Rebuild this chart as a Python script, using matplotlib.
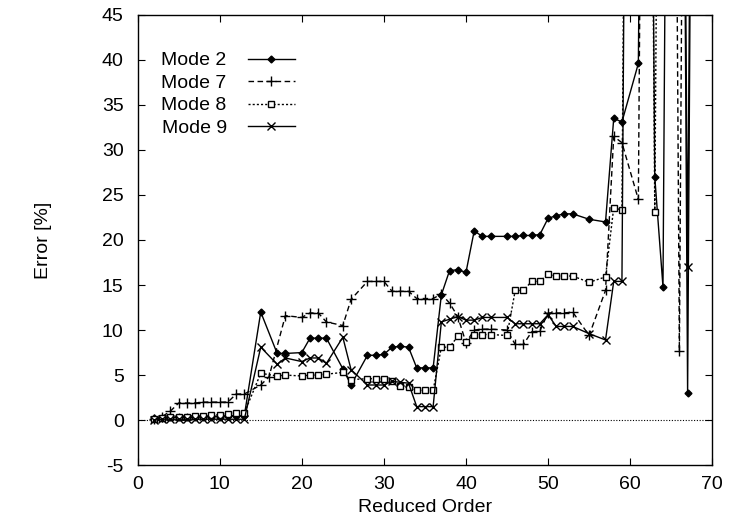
import matplotlib
matplotlib.use("Agg")
import matplotlib.pyplot as plt
import numpy as np

plt.rcParams['font.family'] = ['Liberation Sans', 'DejaVu Sans']
plt.rcParams['axes.unicode_minus'] = False

OFF = 150.0  # values running far above the plotted range

mode2_x = [2, 3, 4, 5, 6, 7, 8, 9, 10, 11, 12, 13, 15, 17, 18, 20, 21, 22, 23, 25, 26, 28, 29, 30,
           31, 32, 33, 34, 35, 36, 37, 38, 39, 40, 41, 42, 43, 45, 46, 47, 48, 49, 50, 51, 52, 53,
           55, 57, 58, 59, 61, 62, 63, 64, 65, 66, 67, 68]
mode2_y = [0.2, 0.2, 0.3, 0.3, 0.3, 0.3, 0.4, 0.4, 0.4, 0.5, 0.5, 0.5, 12.0, 7.4, 7.4, 7.5, 9.1, 9.1,
           9.1, 5.7, 3.9, 7.2, 7.2, 7.3, 8.1, 8.2, 8.1, 5.8, 5.8, 5.8, 13.9, 16.6, 16.7, 16.4, 21.0,
           20.4, 20.4, 20.4, 20.4, 20.5, 20.5, 20.6, 22.4, 22.7, 22.9, 22.9, 22.3, 22.0, 33.5, 33.1,
           39.6, OFF, 27.0, 14.8, OFF, OFF, 3.0, OFF]

mode7_x = [2, 3, 4, 5, 6, 7, 8, 9, 10, 11, 12, 13, 15, 16, 18, 20, 21, 22, 23, 25, 26, 28, 29, 30,
           31, 32, 33, 34, 35, 36, 37, 38, 39, 40, 41, 42, 43, 45, 46, 47, 48, 49, 50, 51, 52, 53,
           55, 57, 58, 59, 61, 62, 63, 64, 65, 66, 67, 68]
mode7_y = [0.1, 0.4, 1.0, 1.9, 1.9, 1.9, 2.0, 2.0, 2.0, 2.0, 2.9, 2.9, 3.9, 4.8, 11.6, 11.4, 11.9,
           11.9, 10.9, 10.5, 13.4, 15.4, 15.4, 15.4, 14.3, 14.3, 14.3, 13.5, 13.5, 13.5, 14.0, 13.0,
           11.5, 8.6, 10.0, 10.1, 10.1, 10.0, 8.4, 8.4, 9.8, 9.9, 11.9, 11.9, 11.9, 12.0, 9.4, 14.4,
           31.5, 30.8, 24.5, OFF, OFF, OFF, OFF, 7.7, OFF, OFF]

mode8_x = [2, 3, 4, 5, 6, 7, 8, 9, 10, 11, 12, 13, 15, 17, 18, 20, 21, 22, 23, 25, 26, 28, 29, 30,
           31, 32, 33, 34, 35, 36, 37, 38, 39, 40, 41, 42, 43, 45, 46, 47, 48, 49, 50, 51, 52, 53,
           55, 57, 58, 59, 60, 61, 62, 63, 64, 65, 66, 67, 68]
mode8_y = [0.1, 0.2, 0.3, 0.4, 0.4, 0.5, 0.5, 0.6, 0.6, 0.7, 0.8, 0.8, 5.2, 4.9, 5.0, 4.9, 5.0, 5.0,
           5.1, 5.3, 4.5, 4.6, 4.6, 4.6, 4.3, 3.8, 3.7, 3.3, 3.3, 3.3, 8.1, 8.1, 9.3, 8.7, 9.5, 9.5,
           9.5, 9.4, 14.4, 14.4, 15.4, 15.4, 16.2, 16.0, 16.0, 16.0, 15.3, 15.9, 23.6, 23.3, OFF,
           OFF, OFF, 23.1, OFF, OFF, OFF, OFF, OFF]

mode9_x = [2, 3, 4, 5, 6, 7, 8, 9, 10, 11, 12, 13, 15, 17, 18, 20, 21, 22, 23, 25, 26, 28, 29, 30,
           31, 32, 33, 34, 35, 36, 37, 38, 39, 40, 41, 42, 43, 45, 46, 47, 48, 49, 50, 51, 52, 53,
           55, 57, 58, 59, 60, 61, 62, 63, 64, 65, 66, 67, 68]
mode9_y = [0.0, 0.1, 0.1, 0.1, 0.1, 0.1, 0.1, 0.1, 0.1, 0.1, 0.1, 0.1, 8.1, 6.2, 6.9, 6.5, 6.9, 6.9,
           6.3, 9.2, 5.6, 3.9, 3.9, 3.9, 4.3, 4.2, 4.1, 1.5, 1.5, 1.5, 10.9, 11.2, 11.5, 11.1, 11.1,
           11.4, 11.4, 11.4, 10.7, 10.7, 10.7, 10.7, 11.7, 10.4, 10.4, 10.4, 9.6, 8.9, 15.4, 15.4,
           OFF, OFF, OFF, OFF, OFF, OFF, OFF, 17.0, OFF]

labels = ["Mode 2", "Mode 7", "Mode 8", "Mode 9"]
x_ticks = [0, 10, 20, 30, 40, 50, 60, 70]
y_ticks = [-5, 0, 5, 10, 15, 20, 25, 30, 35, 40, 45]

fig = plt.figure(figsize=(7.32, 5.28), dpi=100)
ax = fig.add_axes([0.188, 0.119, 0.785, 0.853])

ax.axhline(0, color='black', lw=0.8, ls=(0, (1, 1.5)), zorder=1)

ax.plot(mode2_x, mode2_y, color='black', lw=1.0, ls='-', marker='D', ms=3.5,
        mfc='black', mec='black', label=labels[0])
ax.plot(mode7_x, mode7_y, color='black', lw=1.0, ls=(0, (4, 2.5)), marker='+', ms=7,
        mew=1.0, label=labels[1])
ax.plot(mode8_x, mode8_y, color='black', lw=1.0, ls=(0, (1.5, 1.5)), marker='s', ms=5,
        mfc='white', mec='black', mew=1.0, label=labels[2])
ax.plot(mode9_x, mode9_y, color='black', lw=1.0, ls='-', marker='x', ms=6, mew=1.0,
        label=labels[3])

ax.set_xlim(0, 70)
ax.set_ylim(-5, 45)
ax.set_xticks(x_ticks)
ax.set_yticks(y_ticks)
ax.tick_params(direction='in', top=True, right=True, length=5, width=0.8, labelsize=14)
ax.tick_params(axis='x', pad=8)
ax.tick_params(axis='y', pad=10)
for s in ax.spines.values():
    s.set_linewidth(1.0)

ax.set_xlabel("Reduced Order", fontsize=14, labelpad=4)
ax.set_ylabel("Error [%]", fontsize=14, labelpad=36)

leg = ax.legend(loc='upper left', bbox_to_anchor=(0.028, 0.935), frameon=False,
                markerfirst=False, fontsize=14, handlelength=2.4, labelspacing=0.25,
                handletextpad=1.1, borderaxespad=0)

fig.savefig("out.png", dpi=100)
